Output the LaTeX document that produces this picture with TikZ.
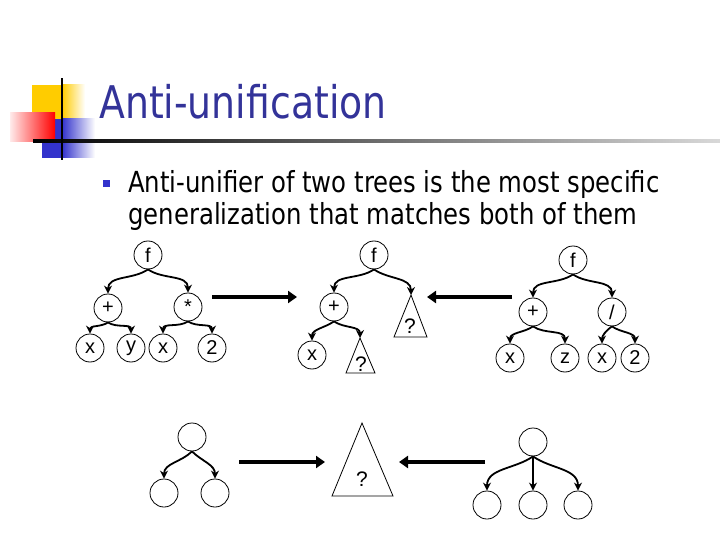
\documentclass[tikz,border=0pt]{standalone}
\usepackage{fontspec}
\usetikzlibrary{arrows.meta}
\newfontfamily\tfont[FakeStretch=0.84]{DejaVu Sans}
\newfontfamily\lfont{Liberation Sans}
\definecolor{titleblue}{RGB}{51,51,153}
\definecolor{bulletblue}{RGB}{51,51,204}
\definecolor{sqyellow}{RGB}{255,204,0}
\definecolor{sqblue}{RGB}{51,51,204}
\begin{document}
\begin{tikzpicture}[x=1pt,y=-1pt,
  tnode/.style={circle,draw,line width=0.8pt,minimum size=28pt,inner sep=0pt,font=\lfont\fontsize{20}{20}\selectfont},
  qmark/.style={inner sep=0pt,font=\lfont\fontsize{21}{21}\selectfont},
  tedge/.style={line width=1.8pt,-{Stealth[length=8pt,width=8pt]}},
  bigarrow/.style={line width=4pt,-{Triangle[length=9pt,width=12pt]}},
  tri/.style={draw,line width=0.8pt}]
\useasboundingbox (0,0) rectangle (720,540);
% decoration
\fill[sqyellow] (32,85) rectangle (62,119);
\shade[left color=sqyellow,right color=white] (62,85) rectangle (85,119);
\fill[sqblue] (42,119) rectangle (62,158);
\shade[left color=sqblue,right color=white] (62,119) rectangle (95,158);
\shade[left color=red!8,right color=red] (10,113) rectangle (55,142);
\shade[left color=black,right color=black!15] (33,140) rectangle (720,142.5);
\fill[black] (60.7,78) rectangle (62.7,160);
% title
\node[anchor=base west,inner sep=0pt,text=titleblue,font=\tfont\fontsize{45}{45}\selectfont] (title) at (99,119) {Anti-unification};
% bullet
\fill[bulletblue] (103,180) rectangle (109.5,187);
\node[anchor=base west,inner sep=0pt,font=\tfont\fontsize{29}{29}\selectfont] (l1) at (128,193) {Anti-unifier of two trees is the most specific};
\node[anchor=base west,inner sep=0pt,font=\tfont\fontsize{29}{29}\selectfont] (l2) at (128,225) {generalization that matches both of them};
% tree A
\node[tnode] (af) at (148,255) {f};
\node[tnode] (ap) at (108,308) {+};
\node[tnode] (am) at (188,307) {*};
\node[tnode] (ax1) at (90,348) {x};
\node[tnode] (ay) at (131,348) {y};
\node[tnode] (ax2) at (163,348) {x};
\node[tnode] (a2) at (212,348) {2};
\draw[tedge] (af.south) to[out=-145,in=90] (ap.north);
\draw[tedge] (af.south) to[out=-35,in=90] (am.north);
\draw[tedge] (ap.south) to[out=-145,in=90] (ax1.north);
\draw[tedge] (ap.south) to[out=-35,in=90] (ay.north);
\draw[tedge] (am.south) to[out=-145,in=90] (ax2.north);
\draw[tedge] (am.south) to[out=-35,in=90] (a2.north);
% tree B
\node[tnode] (bf) at (374,255) {f};
\node[tnode] (bp) at (334,307) {+};
\node[tnode] (bx) at (312,355) {x};
\coordinate (bt1) at (411,295);
\draw[tri] (bt1) -- (427,337) -- (394,337) -- cycle;
\node[qmark] (bq1) at (410,326) {?};
\coordinate (bt2) at (360,338);
\draw[tri] (bt2) -- (375,373) -- (346,373) -- cycle;
\node[qmark] (bq2) at (361,364) {?};
\draw[tedge] (bf.south) to[out=-145,in=90] (bp.north);
\draw[tedge] (bf.south) to[out=-35,in=90] (bt1);
\draw[tedge] (bp.south) to[out=-145,in=90] (bx.north);
\draw[tedge] (bp.south) to[out=-35,in=90] (bt2);
% tree C
\node[tnode] (cf) at (573,260) {f};
\node[tnode] (cp) at (533,312) {+};
\node[tnode] (cd) at (612,312) {/};
\node[tnode] (cx1) at (510,358) {x};
\node[tnode] (cz) at (565,358) {z};
\node[tnode] (cx2) at (602,358) {x};
\node[tnode] (c2) at (635,358) {2};
\draw[tedge] (cf.south) to[out=-145,in=90] (cp.north);
\draw[tedge] (cf.south) to[out=-35,in=90] (cd.north);
\draw[tedge] (cp.south) to[out=-145,in=90] (cx1.north);
\draw[tedge] (cp.south) to[out=-35,in=90] (cz.north);
\draw[tedge] (cd.south) to[out=-145,in=90] (cx2.north);
\draw[tedge] (cd.south) to[out=-35,in=90] (c2.north);
% big arrows top
\coordinate (a1s) at (212,297);
\coordinate (a1e) at (297,297);
\coordinate (a2s) at (512,297);
\coordinate (a2e) at (427,297);
\draw[bigarrow] (a1s) -- (a1e);
\draw[bigarrow] (a2s) -- (a2e);
% bottom D
\node[tnode] (dt) at (192,437) {};
\node[tnode] (dl) at (164,493) {};
\node[tnode] (dr) at (215,493) {};
\draw[tedge] (dt.south) to[out=-135,in=90] (dl.north);
\draw[tedge] (dt.south) to[out=-45,in=90] (dr.north);
% bottom E
\coordinate (et) at (362,423);
\draw[tri] (et) -- (393,496) -- (332,496) -- cycle;
\node[qmark] (eq) at (362,479) {?};
% bottom F
\node[tnode] (ft) at (533,442) {};
\node[tnode] (fl) at (487,505) {};
\node[tnode] (fm) at (533,505) {};
\node[tnode] (fr) at (578,505) {};
\draw[tedge] (ft.south) to[out=-145,in=90] (fl.north);
\draw[tedge] (ft.south) -- (fm.north);
\draw[tedge] (ft.south) to[out=-35,in=90] (fr.north);
% big arrows bottom
\coordinate (b1s) at (239,462);
\coordinate (b1e) at (325,462);
\coordinate (b2s) at (485,462);
\coordinate (b2e) at (399,462);
\draw[bigarrow] (b1s) -- (b1e);
\draw[bigarrow] (b2s) -- (b2e);
\end{tikzpicture}
\end{document}
